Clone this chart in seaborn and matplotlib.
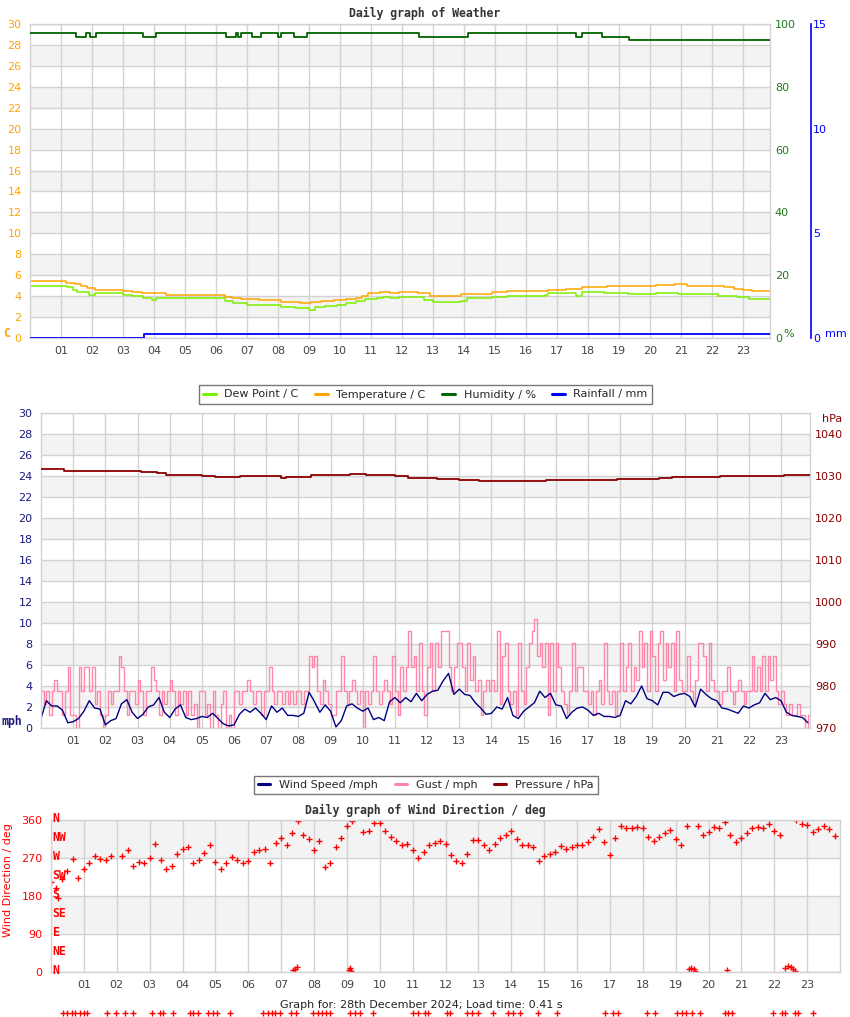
import numpy as np
import matplotlib
matplotlib.use("Agg")
import matplotlib.pyplot as plt
import matplotlib.transforms as mtransforms
from matplotlib.lines import Line2D
import seaborn as sns

sns.set_style("white")
plt.rcParams['font.family'] = ['DejaVu Sans']

# ---------------- data ----------------
hour_labels = [f"{h:02d}" for h in range(1, 24)]

# Panel 1 (step series: change hours and values)
temp_hours = [0.0, 1.15, 1.45, 1.65, 1.85, 2.1, 3.0, 3.3, 3.6, 4.4,
              6.3, 6.5, 6.8, 7.4, 8.1, 8.7, 9.05, 9.4, 9.8, 10.2,
              10.5, 10.7, 10.9, 11.3, 11.6, 11.9, 12.5, 12.9, 13.9, 14.9,
              15.4, 16.7, 17.3, 17.8, 18.6, 20.2, 20.8, 21.2, 22.4, 22.7,
              23.0, 23.3]
temp_c = [5.4, 5.3, 5.2, 5.0, 4.8, 4.6, 4.5, 4.4, 4.3, 4.1,
          3.9, 3.8, 3.7, 3.6, 3.4, 3.3, 3.4, 3.5, 3.6, 3.7,
          3.8, 4.0, 4.3, 4.4, 4.3, 4.4, 4.3, 4.0, 4.2, 4.4,
          4.5, 4.6, 4.7, 4.9, 5.0, 5.1, 5.2, 5.0, 4.9, 4.7,
          4.6, 4.5]

dew_hours = [0.0, 1.2, 1.4, 1.5, 1.9, 2.1, 3.0, 3.3, 3.65, 3.95,
             4.05, 6.3, 6.55, 7.0, 8.1, 8.55, 9.0, 9.2, 9.5, 9.9,
             10.2, 10.5, 10.8, 11.2, 11.4, 11.6, 11.9, 12.7, 13.0, 13.9,
             14.1, 14.9, 15.4, 16.6, 16.7, 17.6, 17.8, 18.5, 19.3, 20.2,
             20.9, 22.2, 22.8, 23.2]
dew_c = [5.0, 4.9, 4.6, 4.4, 4.1, 4.3, 4.1, 4.0, 3.8, 3.6,
         3.8, 3.5, 3.3, 3.2, 3.0, 2.9, 2.7, 3.0, 3.1, 3.2,
         3.3, 3.5, 3.7, 3.8, 3.9, 3.8, 3.9, 3.6, 3.4, 3.5,
         3.8, 3.9, 4.0, 4.1, 4.3, 4.0, 4.4, 4.3, 4.2, 4.3,
         4.2, 4.0, 3.9, 3.7]

hum_hours = [0.0, 1.48, 1.81, 1.94, 2.13, 3.64, 4.05, 6.32, 6.63, 6.72,
             6.82, 6.99, 7.17, 7.44, 8.01, 8.1, 8.5, 8.95, 12.56, 14.14,
             14.35, 17.6, 17.8, 18.44, 19.32]
hum_pct = [97, 96, 97, 96, 97, 96, 97, 96, 97, 96,
           97, 97, 96, 97, 96, 97, 96, 97, 96, 97,
           97, 96, 97, 96, 95]

rain_hours = [0.0, 3.68]
rain_mm = [0.0, 0.2]

# Panel 2
pres_hours = [0.0, 0.72, 1.45, 2.17, 3.1, 3.62, 3.9, 5.0, 5.4, 6.2,
              7.45, 7.6, 8.4, 9.6, 10.1, 11.0, 11.4, 12.3, 13.0, 13.6,
              14.2, 15.0, 15.7, 17.9, 18.4, 19.2, 19.6, 21.1, 21.8, 22.3,
              23.1]
pres_hpa = [1031.6, 1031.3, 1031.1, 1031.3, 1030.9, 1030.6, 1030.2, 1029.9, 1029.7, 1030.1,
            1029.6, 1029.8, 1030.2, 1030.4, 1030.2, 1030.0, 1029.6, 1029.2, 1029.0, 1028.8,
            1028.7, 1028.9, 1029.0, 1029.2, 1029.4, 1029.6, 1029.8, 1030.1, 1029.9, 1030.1,
            1030.3]

# gust, 5-minute readings (12 per hour)
gust_mph = [
    3.5, 2.3, 3.5, 1.2, 3.5, 4.6, 3.5, 3.5, 1.2, 3.5, 5.8, 1.2,
    1.2, 0.0, 5.8, 3.5, 5.8, 5.8, 3.5, 5.8, 2.3, 3.5, 1.2, 0.0,
    1.2, 3.5, 2.3, 3.5, 3.5, 6.9, 5.8, 3.5, 1.2, 3.5, 3.5, 2.3,
    4.6, 3.5, 1.2, 3.5, 3.5, 5.8, 4.6, 3.5, 1.2, 3.5, 2.3, 3.5,
    4.6, 3.5, 1.2, 3.5, 2.3, 3.5, 1.2, 3.5, 1.2, 2.3, 0.0, 3.5,
    3.5, 1.2, 2.3, 0.0, 3.5, 1.2, 0.0, 2.3, 3.5, 0.0, 1.2, 0.0,
    3.5, 3.5, 2.3, 3.5, 3.5, 4.6, 3.5, 2.3, 3.5, 3.5, 1.2, 3.5,
    3.5, 5.8, 3.5, 2.3, 3.5, 3.5, 2.3, 3.5, 2.3, 3.5, 2.3, 3.5,
    3.5, 2.3, 3.5, 3.5, 6.9, 5.8, 6.9, 3.5, 2.3, 4.6, 3.5, 2.3,
    1.2, 1.2, 3.5, 3.5, 6.9, 3.5, 2.3, 3.5, 4.6, 3.5, 2.3, 3.5,
    0.0, 3.5, 2.3, 3.5, 6.9, 3.5, 2.3, 3.5, 4.6, 3.5, 2.3, 6.9,
    3.5, 1.2, 5.8, 3.5, 5.8, 9.2, 5.8, 6.9, 3.5, 8.1, 3.5, 1.2,
    5.8, 8.1, 3.5, 8.1, 5.8, 9.2, 9.2, 9.2, 5.8, 3.5, 5.8, 8.1,
    8.1, 5.8, 3.5, 8.1, 4.6, 6.9, 3.5, 4.6, 1.2, 3.5, 4.6, 3.5,
    4.6, 3.5, 9.2, 2.3, 6.9, 8.1, 3.5, 2.3, 3.5, 1.2, 8.1, 3.5,
    2.3, 5.8, 8.1, 9.2, 10.4, 6.9, 8.1, 5.8, 8.1, 1.2, 8.1, 3.5,
    8.1, 5.8, 3.5, 2.3, 1.2, 3.5, 8.1, 3.5, 5.8, 5.8, 3.5, 3.5,
    2.3, 3.5, 1.2, 3.5, 4.6, 2.3, 8.1, 3.5, 2.3, 3.5, 1.2, 3.5,
    8.1, 3.5, 5.8, 8.1, 3.5, 5.8, 4.6, 9.2, 5.8, 8.1, 3.5, 9.2,
    6.9, 3.5, 8.1, 9.2, 4.6, 8.1, 5.8, 8.1, 3.5, 9.2, 4.6, 3.5,
    3.5, 6.9, 3.5, 2.3, 4.6, 8.1, 8.1, 6.9, 3.5, 8.1, 4.6, 3.5,
    3.5, 2.3, 3.5, 3.5, 5.8, 3.5, 2.3, 3.5, 4.6, 3.5, 2.3, 3.5,
    3.5, 6.9, 3.5, 5.8, 3.5, 6.9, 3.5, 6.9, 4.6, 6.9, 3.5, 2.3,
    3.5, 2.3, 1.2, 2.3, 1.2, 1.2, 2.3, 1.2, 1.2, 0.0, 1.2, 0.0,
]

# wind speed, 10-minute readings (6 per hour)
wind_mph = [
    0.9, 2.6, 2.1, 2.1, 1.7, 0.5,
    0.6, 0.9, 1.6, 2.6, 1.9, 1.8,
    0.3, 0.7, 0.9, 2.3, 2.7, 1.5,
    0.9, 1.3, 2.0, 2.2, 2.9, 1.5,
    1.0, 1.8, 2.2, 1.0, 0.8, 0.9,
    1.1, 1.0, 1.4, 0.9, 0.4, 0.2,
    0.3, 1.3, 1.8, 1.5, 1.9, 1.4,
    0.8, 2.1, 1.5, 1.9, 1.2, 1.2,
    1.1, 1.4, 3.4, 2.5, 1.5, 2.2,
    1.6, 0.1, 0.7, 2.1, 2.3, 1.9,
    1.6, 1.9, 0.8, 1.0, 0.7, 2.5,
    2.9, 2.4, 2.9, 2.5, 3.3, 2.6,
    3.2, 3.5, 3.6, 4.5, 5.2, 3.2,
    3.7, 3.2, 3.1, 2.4, 1.9, 1.3,
    1.4, 2.0, 1.8, 2.9, 1.2, 0.9,
    1.6, 2.0, 2.4, 3.5, 2.9, 3.3,
    2.2, 2.1, 0.9, 1.5, 1.9, 2.0,
    1.7, 1.2, 1.4, 1.1, 1.1, 1.0,
    1.2, 2.6, 2.3, 3.0, 4.0, 2.8,
    2.6, 2.2, 3.4, 3.4, 3.0, 3.2,
    3.3, 3.0, 2.0, 3.7, 3.2, 2.8,
    2.6, 1.9, 1.8, 1.6, 1.4, 2.1,
    1.9, 2.2, 2.4, 3.3, 2.7, 2.9,
    2.6, 1.5, 1.2, 1.1, 1.0, 0.5,
]

# Panel 3: wind direction, 10-minute readings (nan = no reading)
nan = float('nan')
wind_dir_deg = [
    213, 200, 220, 240, 268, 222,
    245, 258, 275, 268, 265, 275,
    nan, 275, 290, 252, 260, 257,
    270, 302, 265, 245, 252, 280,
    292, 296, 258, 265, 283, 300,
    260, 245, 258, 272, 265, 258,
    262, 285, 290, 292, 258, 305,
    318, 300, 330, 358, 325, 315,
    290, 310, 248, 258, 295, 318,
    345, 358, nan, 332, 335, 352,
    354, 335, 320, 310, 300, 302,
    288, 270, 285, 300, 306, 310,
    302, 278, 263, 257, 280, 312,
    312, 300, 288, 304, 318, 325,
    333, 315, 300, 300, 296, 262,
    275, 280, 285, 298, 292, 296,
    300, 300, 307, 320, 338, 308,
    278, 318, 346, 342, 340, 343,
    340, 320, 310, 320, 330, 336,
    315, 300, 345, nan, 345, 325,
    332, 343, 340, 355, 325, 308,
    318, 330, 340, 344, 340, 350,
    335, 325, nan, nan, 360, 350,
    348, 332, 338, 345, 338, 322,
]
# extra readings that fall just past north
north_hours = [0.22, 7.37, 7.42, 7.47, 9.05, 9.1, 9.13, 19.4, 19.47, 19.55, 19.6,
               20.56, 22.34, 22.42, 22.5, 22.58, 22.64]
north_deg = [175, 5, 8, 12, 5, 10, 2, 8, 10, 6, 2, 5, 10, 14, 12, 8, 3]
# off-scale readings drawn below the chart
stray_hours = [0.37, 0.49, 0.64, 0.73, 0.88, 1.0, 1.1, 1.7, 1.98, 2.25, 2.5,
               3.07, 3.32, 3.4, 3.71, 4.23, 4.32, 4.47, 4.78, 4.93, 5.05, 5.45,
               6.45, 6.6, 6.73, 6.82, 6.97, 7.3, 7.46, 7.97, 8.13, 8.25, 8.37,
               8.49, 9.1, 9.25, 9.4, 9.8, 11.0, 11.17, 11.38, 11.47, 12.05,
               12.14, 12.66, 12.81, 12.99, 13.45, 13.91, 14.06, 14.28, 14.82,
               15.4, 16.86, 17.1, 17.25, 18.14, 18.38, 19.05, 19.2, 19.32,
               19.5, 19.75, 20.51, 20.6, 20.72, 21.97, 22.25, 22.34, 22.64,
               22.73, 23.19]
stray_deg = -97

compass_deg = [0, 45, 90, 135, 180, 225, 270, 315, 360]
compass_labels = ['N', 'NE', 'E', 'SE', 'S', 'SW', 'W', 'NW', 'N']

legend1_labels = ['Dew Point / C', 'Temperature / C', 'Humidity / %', 'Rainfall / mm']
legend2_labels = ['Wind Speed /mph', 'Gust / mph', 'Pressure / hPa']

# ---------------- styling ----------------
C_TEMP, C_DEW, C_HUM, C_RAIN = '#ffa500', '#7cf000', '#006400', '#0000ff'
C_WIND, C_GUST, C_PRES, C_DIR = '#000080', '#ff88aa', '#8b0000', '#ff0000'
GRID, BAND, TXT = '#d2d2d2', '#f3f3f3', '#444444'
MONO = dict(family='DejaVu Sans Mono', weight='bold')
FS = 8

W, H = 850, 1017
fig = plt.figure(figsize=(W / 100, H / 100), dpi=100)


def rect(x0, y0, x1, y1):
    return [x0 / W, 1 - y1 / H, (x1 - x0) / W, (y1 - y0) / H]


def fx(x):
    return x / W


def fy(y):
    return 1 - y / H


def base(ax, xmax, ymax, ystep, bands, ycolor):
    ax.set_xlim(0, xmax)
    ax.set_ylim(0, ymax)
    for lo, hi in bands:
        ax.axhspan(lo, hi, color=BAND, lw=0, zorder=0)
    ax.set_yticks(np.arange(0, ymax + 0.1, ystep))
    ax.set_xticks(range(1, 24))
    ax.set_xticklabels(hour_labels)
    ax.grid(True, color=GRID, lw=1.0)
    ax.set_axisbelow(True)
    ax.tick_params(length=0, labelsize=FS)
    ax.tick_params(axis='y', colors=ycolor, pad=6)
    ax.tick_params(axis='x', colors=TXT, pad=6)
    for s in ax.spines.values():
        s.set_color(GRID)
        s.set_linewidth(1.0)


def hide_spines(ax):
    for s in ax.spines.values():
        s.set_visible(False)


def steps(hours, vals, end):
    return list(hours) + [end], list(vals) + [vals[-1]]


# ---------------- panel 1 ----------------
END1 = 23.87
ax1 = fig.add_axes(rect(30, 24, 770, 338))
ax1g = ax1.twinx()
ax1b = ax1.twinx()

x, y = steps(dew_hours, dew_c, END1)
sns.lineplot(x=x, y=y, ax=ax1, color=C_DEW, lw=1.1, drawstyle='steps-post', legend=False)
x, y = steps(temp_hours, temp_c, END1)
sns.lineplot(x=x, y=y, ax=ax1, color=C_TEMP, lw=1.1, drawstyle='steps-post', legend=False)
x, y = steps(hum_hours, hum_pct, END1)
sns.lineplot(x=x, y=y, ax=ax1g, color=C_HUM, lw=1.3, drawstyle='steps-post', legend=False)
x, y = steps(rain_hours, rain_mm, END1)
sns.lineplot(x=x, y=y, ax=ax1b, color=C_RAIN, lw=1.3, drawstyle='steps-post', legend=False)

base(ax1, END1, 30, 2, [(lo, lo + 2) for lo in range(2, 30, 4)], C_TEMP)

ax1g.set_ylim(0, 100)
ax1g.set_yticks(range(0, 101, 20))
ax1g.tick_params(axis='y', colors='#1e7b1e', length=0, pad=3.5, labelsize=FS)
hide_spines(ax1g)

ax1b.set_ylim(0, 15)
ax1b.set_yticks([0, 5, 10, 15])
ax1b.tick_params(axis='y', colors=C_RAIN, length=0, pad=1.5, labelsize=FS)
hide_spines(ax1b)
ax1b.spines['right'].set_visible(True)
ax1b.spines['right'].set_position(('axes', (811 - 30) / 740))
ax1b.spines['right'].set_color(C_RAIN)
ax1b.spines['right'].set_linewidth(1.2)
for a in (ax1, ax1g, ax1b):
    a.set_xlabel('')
    a.set_ylabel('')

fig.text(fx(425), fy(13), 'Daily graph of Weather', ha='center', va='center',
         fontsize=8.3, color='#333333', **MONO)
fig.text(fx(7), fy(333), 'C', ha='center', va='center', fontsize=8.3, color=C_TEMP, **MONO)
fig.text(fx(789), fy(334), '%', ha='center', va='center', fontsize=FS, color='#1e7b1e')
fig.text(fx(836), fy(334), 'mm', ha='center', va='center', fontsize=FS, color=C_RAIN)

h1 = [Line2D([], [], color=c, lw=2.2) for c in (C_DEW, C_TEMP, C_HUM, C_RAIN)]
leg1 = fig.legend(h1, legend1_labels, loc='center', bbox_to_anchor=(fx(425.5), fy(394.5)),
                  ncol=4, fontsize=FS, frameon=True, fancybox=False, edgecolor='#777777',
                  framealpha=1.0, handlelength=1.1, handletextpad=0.8, columnspacing=1.5,
                  borderpad=0.4)
leg1.get_frame().set_linewidth(1.0)

# ---------------- panel 2 ----------------
END2 = 23.9
ax2 = fig.add_axes(rect(41, 413, 810, 728))
ax2p = ax2.twinx()
gust_x = np.arange(len(gust_mph)) / 12.0
wind_x = np.arange(len(wind_mph)) / 6.0
sns.lineplot(x=gust_x, y=gust_mph, ax=ax2, color=C_GUST, lw=1.0, drawstyle='steps-post', legend=False)
sns.lineplot(x=wind_x, y=wind_mph, ax=ax2, color=C_WIND, lw=1.0, legend=False)
x, y = steps(pres_hours, pres_hpa, END2)
sns.lineplot(x=x, y=y, ax=ax2p, color=C_PRES, lw=1.3, drawstyle='steps-post', legend=False)

base(ax2, END2, 30, 2, [(lo, lo + 2) for lo in range(2, 30, 4)], '#1a1a80')
ax2p.set_ylim(970, 1045)
ax2p.set_yticks(range(970, 1041, 10))
ax2p.tick_params(axis='y', colors=C_PRES, length=0, pad=3.5, labelsize=FS)
hide_spines(ax2p)
for a in (ax2, ax2p):
    a.set_xlabel('')
    a.set_ylabel('')

fig.text(fx(832), fy(419), 'hPa', ha='center', va='center', fontsize=FS, color=C_PRES)
fig.text(fx(12), fy(722), 'mph', ha='center', va='center', fontsize=8.3, color='#1a1a80', **MONO)

h2 = [Line2D([], [], color=c, lw=2.2) for c in (C_WIND, C_GUST, C_PRES)]
leg2 = fig.legend(h2, legend2_labels, loc='center', bbox_to_anchor=(fx(426), fy(785)),
                  ncol=3, fontsize=FS, frameon=True, fancybox=False, edgecolor='#777777',
                  framealpha=1.0, handlelength=1.1, handletextpad=0.8, columnspacing=1.5,
                  borderpad=0.4)
leg2.get_frame().set_linewidth(1.0)

# ---------------- panel 3 ----------------
ax3 = fig.add_axes(rect(51, 820, 840, 972))
dir_x = np.arange(len(wind_dir_deg)) / 6.0
sns.scatterplot(x=dir_x, y=wind_dir_deg, ax=ax3, marker='+', color=C_DIR, s=16,
                linewidth=1.0, legend=False)
sns.scatterplot(x=north_hours, y=north_deg, ax=ax3, marker='+', color=C_DIR, s=16,
                linewidth=1.0, legend=False)
sns.scatterplot(x=stray_hours, y=[stray_deg] * len(stray_hours), ax=ax3, marker='+',
                color=C_DIR, s=16, linewidth=1.0, legend=False, clip_on=False)
base(ax3, 24.0, 360, 90, [(90, 180), (270, 360)], C_DIR)
ax3.set_xlabel('')
ax3.set_ylabel('')

blend = mtransforms.blended_transform_factory(ax3.transAxes, ax3.transData)
for d, lab in zip(compass_deg, compass_labels):
    ax3.text(0.002, d + 4, lab, transform=blend, ha='left', va='center',
             fontsize=8.3, color=C_DIR, **MONO)

fig.text(fx(8), fy(880), 'Wind Direction / deg', rotation=90, ha='center', va='center',
         fontsize=FS, color=C_DIR)
fig.text(fx(425), fy(810), 'Daily graph of Wind Direction / deg', ha='center', va='center',
         fontsize=8.3, color='#333333', **MONO)
fig.text(fx(421), fy(1005), 'Graph for: 28th December 2024; Load time: 0.41 s',
         ha='center', va='center', fontsize=FS, color='#222222')

fig.savefig('out.png', dpi=100)
